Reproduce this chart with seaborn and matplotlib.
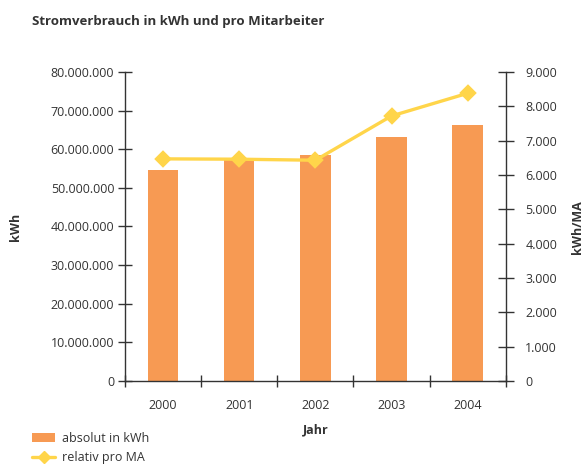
import matplotlib
matplotlib.use("Agg")
import matplotlib.pyplot as plt
import seaborn as sns
import numpy as np
import pandas as pd
from matplotlib.ticker import FuncFormatter, FixedLocator
from matplotlib.patches import Patch
from matplotlib.lines import Line2D

years = ["2000", "2001", "2002", "2003", "2004"]
absolut_kwh = [54600000, 57700000, 58400000, 63100000, 66200000]
relativ_ma = [6470, 6460, 6430, 7720, 8380]

title = "Stromverbrauch in kWh und pro Mitarbeiter"
left_label = "kWh"
right_label = "kWh/MA"
x_label = "Jahr"
legend_labels = ["absolut in kWh", "relativ pro MA"]

bar_color = "#F79A53"
line_color = "#FFD54A"
axis_color = "#333333"
text_color = "#333333"

sns.set_theme(style="white")
plt.rcParams["font.family"] = ["Open Sans", "DejaVu Sans"]

df = pd.DataFrame({"Jahr": years, "abs": absolut_kwh, "rel": relativ_ma})

fig = plt.figure(figsize=(5.84, 4.66), dpi=100)
ax = fig.add_axes([0.214, 0.1824, 0.652, 0.6631])
ax2 = ax.twinx()

sns.barplot(data=df, x="Jahr", y="abs", ax=ax, color=bar_color, width=0.4,
            saturation=1, edgecolor="none")
sns.pointplot(data=df, x="Jahr", y="rel", ax=ax2, color=line_color, markers="D",
              markersize=7, linewidth=2.4)

ax.set_xlim(-0.5, 4.5)
ax.set_ylim(0, 80000000)
ax2.set_ylim(0, 9000)

def dotfmt(v, pos):
    return f"{int(round(v)):,}".replace(",", ".")

ax.yaxis.set_major_locator(FixedLocator(np.arange(0, 80000001, 10000000)))
ax.yaxis.set_major_formatter(FuncFormatter(dotfmt))
ax2.yaxis.set_major_locator(FixedLocator(np.arange(0, 9001, 1000)))
ax2.yaxis.set_major_formatter(FuncFormatter(dotfmt))

for a in (ax, ax2):
    for s in a.spines.values():
        s.set_visible(False)
ax.spines["left"].set_visible(True)
ax.spines["bottom"].set_visible(True)
ax2.spines["right"].set_visible(True)
for s in (ax.spines["left"], ax.spines["bottom"], ax2.spines["right"]):
    s.set_color(axis_color)
    s.set_linewidth(1.0)

ax.tick_params(axis="y", direction="inout", length=9.5, width=1, color=axis_color,
               labelsize=9, labelcolor=text_color, pad=3, left=True)
ax2.tick_params(axis="y", direction="inout", length=12, width=1, color=axis_color,
                labelsize=9, labelcolor=text_color, pad=8, right=True)

ax.xaxis.set_minor_locator(FixedLocator([-0.5, 0.5, 1.5, 2.5, 3.5, 4.5]))
ax.tick_params(axis="x", which="major", length=0, labelsize=9,
               labelcolor=text_color, pad=13)
ax.tick_params(axis="x", which="minor", direction="inout", length=9, width=1,
               color=axis_color, bottom=True)

ax.set_xlabel(x_label, fontsize=9, fontweight="bold", color=text_color, labelpad=8)
ax.set_ylabel(left_label, fontsize=9, fontweight="bold", color=text_color, labelpad=0)
ax.yaxis.set_label_coords(-0.27, 0.5)
ax2.set_ylabel("")
fig.text(578 / 584, 0.5135, right_label, fontsize=9, fontweight="bold",
         color=text_color, rotation=90, ha="center", va="center")
ax.grid(False)
ax2.grid(False)

fig.text(32 / 584, 1 - 22 / 466, title, fontsize=9.5, fontweight="bold",
         color=text_color, va="center", ha="left")

handles = [Patch(facecolor=bar_color, edgecolor="none"),
           Line2D([0], [0], color=line_color, lw=2.4, marker="D", markersize=6)]
leg = fig.legend(handles, legend_labels, loc="upper left",
                 bbox_to_anchor=(0.047, 1 - 427 / 466), frameon=False,
                 fontsize=9, handlelength=1.8, handletextpad=0.6,
                 labelspacing=0.5, borderaxespad=0)
for t in leg.get_texts():
    t.set_color(text_color)

fig.savefig("out.png", dpi=100)
